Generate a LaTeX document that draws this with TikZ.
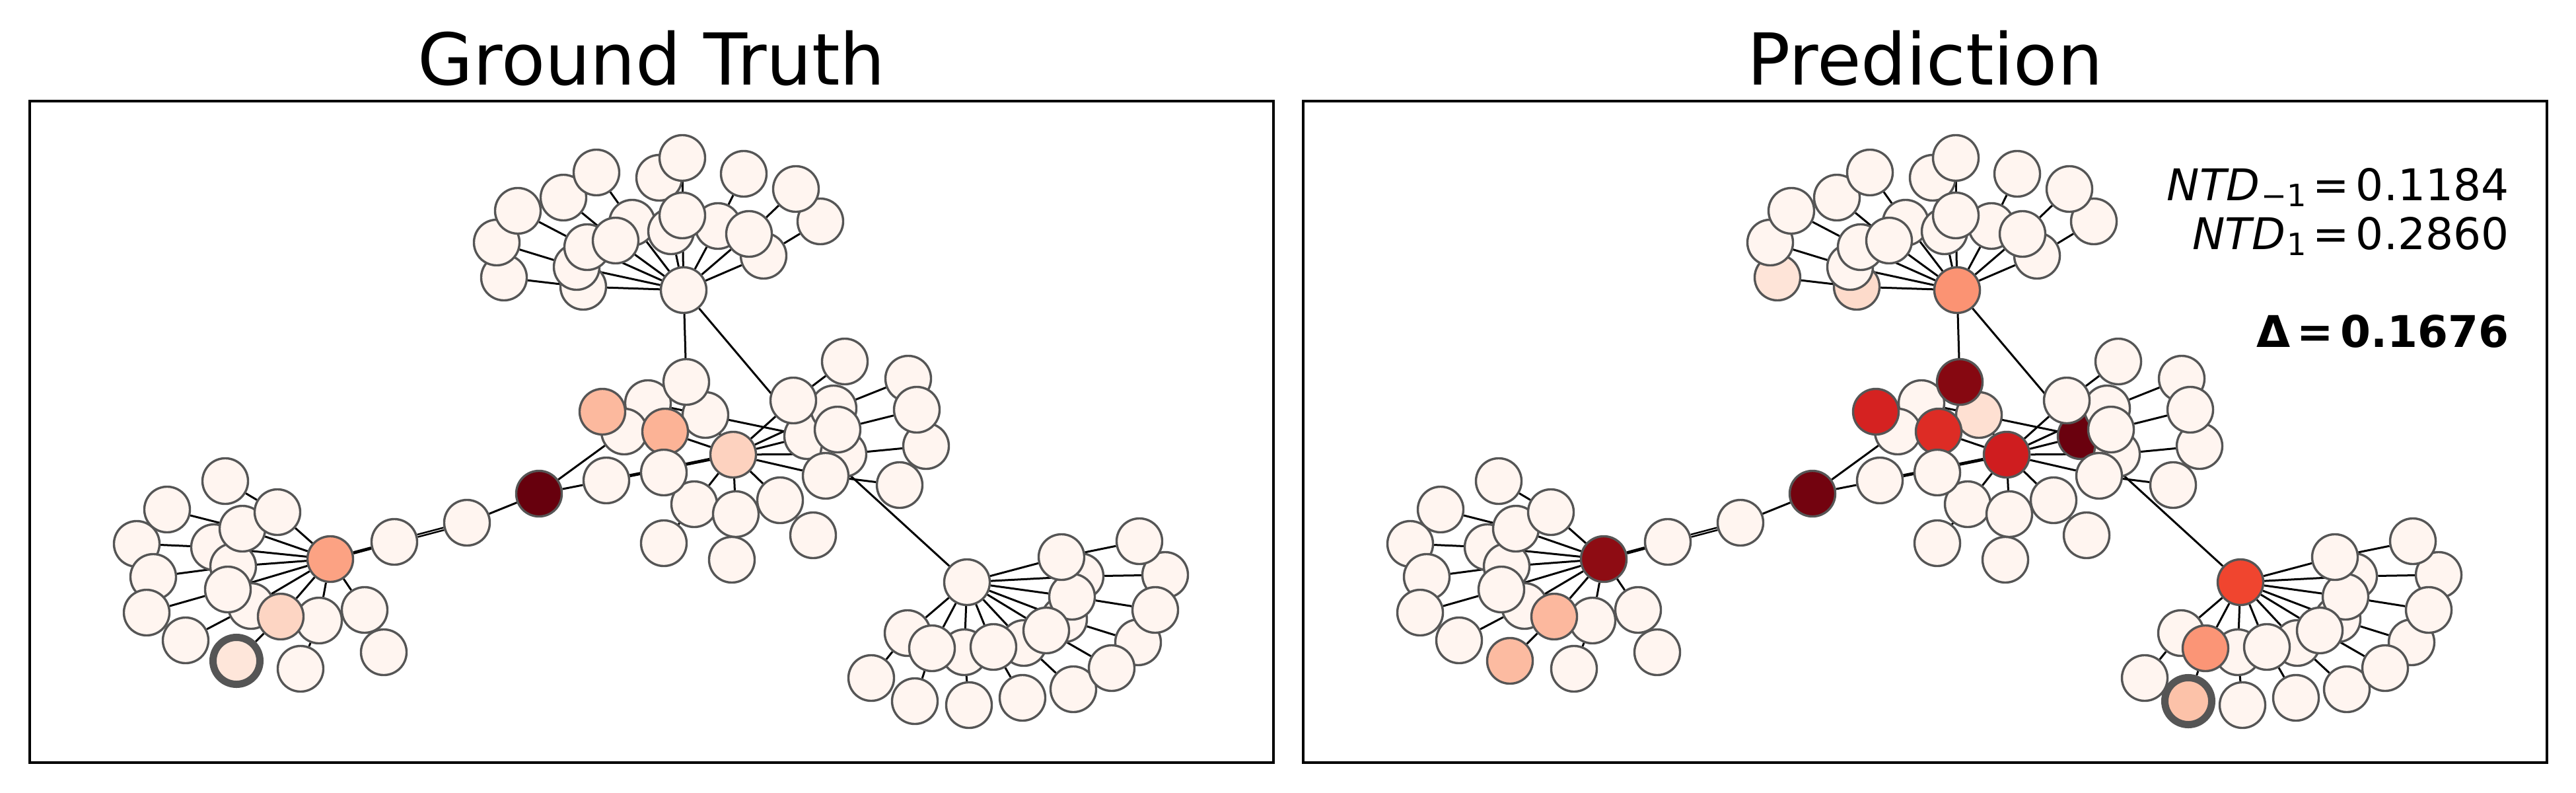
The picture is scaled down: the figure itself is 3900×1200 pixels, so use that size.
\documentclass[tikz,border=0pt]{standalone}
\usepackage{fontspec}
\setmainfont{DejaVu Sans}
\pgfdeclarelayer{paper}
\pgfdeclarelayer{edgelayer}
\pgfsetlayers{paper,edgelayer,main}
\definecolor{base}{HTML}{FFF5F0}
\definecolor{rim}{HTML}{555555}
% ground truth colours
\definecolor{gD}{HTML}{67000D}
\definecolor{gL0}{HTML}{FCA283}
\definecolor{gCb}{HTML}{FCB99E}
\definecolor{gCe}{HTML}{FCB396}
\definecolor{gG}{HTML}{FDD2BF}
\definecolor{gL7}{HTML}{FDD5C3}
\definecolor{gO7}{HTML}{FEE6DA}
% prediction colours
\definecolor{pT0}{HTML}{FB9373}
\definecolor{pT10}{HTML}{FEE4D8}
\definecolor{pT11}{HTML}{FDDBCB}
\definecolor{pCa}{HTML}{860811}
\definecolor{pCb}{HTML}{D52221}
\definecolor{pCe}{HTML}{DD2C25}
\definecolor{pCf}{HTML}{FEE0D2}
\definecolor{pG}{HTML}{CF1D1F}
\definecolor{pCt}{HTML}{6A010E}
\definecolor{pD}{HTML}{73030F}
\definecolor{pL0}{HTML}{8E0C13}
\definecolor{pL7}{HTML}{FCB89E}
\definecolor{pO7}{HTML}{FCBBA1}
\definecolor{pS0}{HTML}{F0452F}
\definecolor{pS9}{HTML}{FB9576}
\definecolor{pR9}{HTML}{FCC2A9}
\tikzset{
  vtx/.style={circle, draw=rim, line width=0.034cm, minimum size=0.69cm, inner sep=0pt, fill=base},
  ring/.style={line width=0.11cm, minimum size=0.71cm},
  edge/.style={line width=0.03cm, black},
  frame/.style={line width=0.033cm, black},
  g-D/.style={fill=gD}, g-L0/.style={fill=gL0}, g-Cb/.style={fill=gCb},
  g-Ce/.style={fill=gCe}, g-G/.style={fill=gG}, g-L7/.style={fill=gL7},
  g-O7/.style={fill=gO7, ring},
  p-T0/.style={fill=pT0}, p-T10/.style={fill=pT10}, p-T11/.style={fill=pT11},
  p-Ca/.style={fill=pCa}, p-Cb/.style={fill=pCb}, p-Ce/.style={fill=pCe},
  p-Cf/.style={fill=pCf}, p-G/.style={fill=pG}, p-Ct/.style={fill=pCt},
  p-D/.style={fill=pD}, p-L0/.style={fill=pL0}, p-L7/.style={fill=pL7},
  p-O7/.style={fill=pO7}, p-S0/.style={fill=pS0}, p-S9/.style={fill=pS9},
  p-R9/.style={fill=pR9, ring},
}
\newcommand\vtxnode[3]{\edef\vtxtmp{\noexpand\node[vtx,\pfx-#1/.try] (\pfx#1) at (#2,#3) {};}\vtxtmp}
\newcommand\drawnet{%
  % top cluster
  \vtxnode{T10}{763}{420}\vtxnode{T9}{752}{367}\vtxnode{T8}{784}{319}\vtxnode{T7}{853}{299}
  \vtxnode{T1}{903}{261}\vtxnode{T2}{998}{269}\vtxnode{T3}{1033}{239}\vtxnode{T4}{1126}{263}
  \vtxnode{T6}{1242}{335}\vtxnode{T5}{1205}{286}\vtxnode{T20}{1156}{387}\vtxnode{T18}{1087}{342}
  \vtxnode{T19}{1134}{354}\vtxnode{T15}{957}{337}\vtxnode{T16}{1016}{350}\vtxnode{T17}{1033}{326}
  \vtxnode{T11}{883}{434}\vtxnode{T12}{873}{404}\vtxnode{T13}{889}{374}\vtxnode{T14}{932}{364}
  \vtxnode{T0}{1035}{439}
  % centre cluster
  \vtxnode{Cc}{981}{610}\vtxnode{Cd}{945}{653}\vtxnode{Cf}{1068}{628}\vtxnode{Cb}{912}{623}
  \vtxnode{Ca}{1039}{578}\vtxnode{Ce}{1007}{653}\vtxnode{Ct}{1222}{660}\vtxnode{Cu}{1277}{687}
  \vtxnode{Cr}{1262}{618}\vtxnode{Cp}{1201}{606}\vtxnode{Cs}{1268}{650}\vtxnode{Cv}{1250}{720}
  \vtxnode{G}{1110}{688}\vtxnode{Cj}{1051}{763}\vtxnode{Ck}{1114}{778}\vtxnode{Ci}{1005}{715}
  \vtxnode{Cl}{1181}{757}\vtxnode{Cm}{1005}{822}\vtxnode{Cn}{1108}{847}\vtxnode{Co}{1231}{810}
  \vtxnode{Cq}{1279}{547}\vtxnode{Cw}{1375}{573}\vtxnode{Cy}{1402}{675}\vtxnode{Cx}{1388}{620}
  \vtxnode{Cz}{1362}{734}\vtxnode{Ch}{918}{727}\vtxnode{D}{816}{747}
  % left cluster
  \vtxnode{O3}{207}{823}\vtxnode{O2}{253}{771}\vtxnode{O4}{232}{873}\vtxnode{O5}{222}{927}
  \vtxnode{O6}{281}{969}\vtxnode{L3}{324}{828}\vtxnode{L4}{353}{857}\vtxnode{L6}{380}{917}
  \vtxnode{L2}{367}{800}\vtxnode{O1}{341}{728}\vtxnode{L1}{420}{775}\vtxnode{L5}{345}{892}
  \vtxnode{L8}{483}{939}\vtxnode{L7}{425}{933}\vtxnode{O7}{358}{1000}\vtxnode{O8}{455}{1012}
  \vtxnode{L9}{552}{923}\vtxnode{O9}{581}{987}\vtxnode{L0}{500}{846}\vtxnode{K1}{597}{820}
  \vtxnode{K2}{707}{791}
  % south-east cluster
  \vtxnode{S2}{1636}{872}\vtxnode{S4}{1611}{937}\vtxnode{S3}{1623}{903}\vtxnode{S1}{1607}{843}
  \vtxnode{S6}{1550}{973}\vtxnode{S5}{1584}{954}\vtxnode{S8}{1460}{987}\vtxnode{S7}{1504}{979}
  \vtxnode{S10}{1374}{958}\vtxnode{S9}{1411}{981}\vtxnode{R2}{1764}{870}\vtxnode{R1}{1725}{819}
  \vtxnode{R4}{1723}{972}\vtxnode{R3}{1749}{923}\vtxnode{R6}{1625}{1043}\vtxnode{R5}{1683}{1011}
  \vtxnode{R10}{1319}{1026}\vtxnode{R9}{1385}{1061}\vtxnode{R8}{1467}{1067}\vtxnode{R7}{1548}{1056}
  \vtxnode{S0}{1464}{881}
  \begin{pgfonlayer}{edgelayer}
    \foreach \a/\b in {T0/T11,T0/T12,T0/T13,T0/T14,T0/T15,T0/T16,T0/T17,T0/T18,T0/T19,T0/T20,
      T11/T10,T12/T9,T13/T8,T14/T7,T15/T1,T16/T2,T17/T3,T18/T4,T19/T5,T20/T6,T0/Ca,T0/Ct,
      G/Ca,G/Ce,G/Cp,G/Cr,G/Ct,G/Cu,G/Cv,G/Cj,G/Ck,G/Cl,Cc/Ct,Cp/Cq,Cr/Cw,Cs/Cx,Cu/Cy,Cv/Cz,
      Cj/Cm,Ck/Cn,Cl/Co,D/Ch,D/Cd,Ct/S0,
      L0/L1,L0/L2,L0/L3,L0/L4,L0/L5,L0/L6,L0/L7,L0/L8,L0/L9,
      L1/O1,L2/O2,L3/O3,L4/O4,L5/O5,L6/O6,L7/O7,L8/O8,L9/O9,K2/D,
      S0/S1,S0/S2,S0/S3,S0/S4,S0/S5,S0/S6,S0/S7,S0/S8,S0/S9,S0/S10,
      S1/R1,S2/R2,S3/R3,S4/R4,S5/R5,S6/R6,S7/R7,S8/R8,S9/R9,S10/R10}
      {\draw[edge] (\pfx\a) -- (\pfx\b);}
    \draw[edge, line width=0.048cm] (\pfx Ch) -- (\pfx G);
    \draw[edge, line width=0.048cm] (\pfx L0) -- (\pfx K1);
    \draw[edge, line width=0.026cm, double=white, double distance=0.01cm] (\pfx K1) -- (\pfx K2);
  \end{pgfonlayer}
}
\begin{document}
\begin{tikzpicture}[x=0.01cm, y=-0.01cm]
  \useasboundingbox (0,0) rectangle (3900,1200);
  \begin{pgfonlayer}{paper}
    \fill[white] (0,0) rectangle (3900,1200);
  \end{pgfonlayer}
  \begin{scope}
    \def\pfx{g}
    \drawnet
  \end{scope}
  \begin{scope}[shift={(1928,0)}]
    \def\pfx{p}
    \drawnet
  \end{scope}
  \draw[frame] (45,153) rectangle (1928,1154);
  \draw[frame] (1973,153) rectangle (3856,1154);
  \node[anchor=base, inner sep=0pt, font=\fontsize{30.8}{36}\selectfont] (t1) at (986.5,128) {Ground Truth};
  \node[anchor=base, inner sep=0pt, font=\fontsize{30.8}{36}\selectfont] (t2) at (2914.5,128) {Prediction};
  \node[anchor=base east, inner sep=0pt, font=\fontsize{18.8}{22}\selectfont] (n1) at (3799,303)
    {\textit{NTD}\kern0.03em\raisebox{-0.14em}{\fontsize{13.2}{15}\selectfont −1}\kern0.15em=\kern0.15em0.1184};
  \node[anchor=base east, inner sep=0pt, font=\fontsize{18.8}{22}\selectfont] (n2) at (3799,377)
    {\textit{NTD}\kern0.03em\raisebox{-0.14em}{\fontsize{13.2}{15}\selectfont 1}\kern0.15em=\kern0.15em0.2860};
  \node[anchor=base east, inner sep=0pt, font=\fontsize{18.8}{22}\selectfont\bfseries] (n3) at (3799,525)
    {Δ\kern0.15em=\kern0.15em0.1676};
\end{tikzpicture}
\end{document}
